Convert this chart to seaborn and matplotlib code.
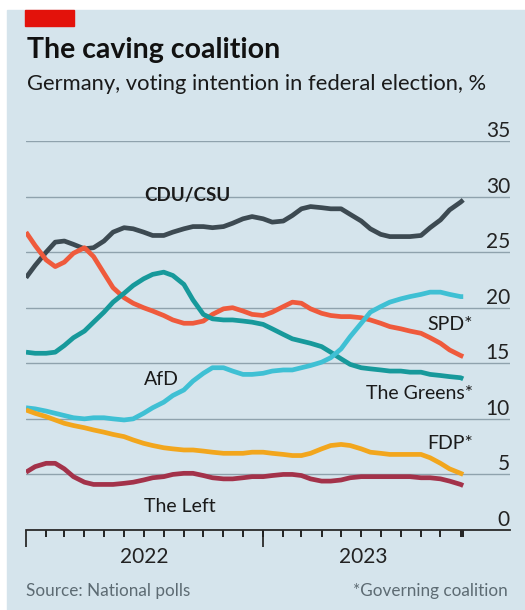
import datetime as dt
import pandas as pd
import matplotlib.pyplot as plt
import matplotlib.dates as mdates
import seaborn as sns
from matplotlib.patches import Rectangle
from matplotlib.ticker import FixedLocator, NullLocator

# poll-of-polls trend lines: 1st and 15th of each month,
# Jan 2022 to Nov 2023, plus the last reading
dates = list(pd.date_range('2022-01-01', '2023-11-01', freq='SMS')) + [pd.Timestamp('2023-11-05')]

cdu = [22.7, 23.8, 25.0, 25.9, 26.0, 25.7, 25.3, 25.4, 26.0, 26.8, 27.2, 27.1, 26.8, 26.5, 26.5, 26.8,
       27.1, 27.3, 27.3, 27.2, 27.3, 27.6, 28.0, 28.2, 28.0, 27.7, 27.8, 28.3, 28.9, 29.1, 29.0, 28.9,
       28.9, 28.4, 27.8, 27.1, 26.6, 26.4, 26.4, 26.4, 26.5, 27.2, 27.9, 28.8, 29.5, 29.7]
spd = [26.8, 25.6, 24.3, 23.7, 24.1, 24.9, 25.4, 24.6, 23.1, 21.8, 20.9, 20.4, 20.0, 19.7, 19.3, 18.9,
       18.6, 18.6, 18.8, 19.4, 19.9, 20.0, 19.7, 19.4, 19.3, 19.6, 20.1, 20.5, 20.4, 19.9, 19.5, 19.3,
       19.2, 19.2, 19.1, 18.9, 18.6, 18.3, 18.1, 17.9, 17.7, 17.3, 16.8, 16.2, 15.7, 15.6]
greens = [16.0, 15.9, 15.9, 16.0, 16.6, 17.3, 17.9, 18.7, 19.6, 20.5, 21.3, 22.0, 22.6, 23.0, 23.2, 22.9,
          22.1, 20.7, 19.4, 19.0, 18.9, 18.9, 18.8, 18.7, 18.5, 18.1, 17.6, 17.2, 17.0, 16.8, 16.5, 16.0,
          15.4, 14.9, 14.6, 14.5, 14.4, 14.3, 14.3, 14.2, 14.2, 14.0, 13.9, 13.8, 13.7, 13.6]
afd = [11.0, 10.9, 10.7, 10.5, 10.3, 10.1, 10.0, 10.1, 10.1, 10.0, 9.9, 10.0, 10.5, 11.0, 11.5, 12.1,
       12.6, 13.4, 14.1, 14.6, 14.6, 14.3, 14.0, 14.0, 14.1, 14.3, 14.4, 14.4, 14.6, 14.8, 15.1, 15.5,
       16.3, 17.4, 18.6, 19.6, 20.1, 20.5, 20.8, 21.0, 21.2, 21.4, 21.4, 21.2, 21.0, 21.0]
fdp = [10.8, 10.5, 10.2, 9.9, 9.6, 9.4, 9.2, 9.0, 8.8, 8.6, 8.4, 8.1, 7.8, 7.6, 7.4, 7.3,
       7.2, 7.2, 7.1, 7.0, 6.9, 6.9, 6.9, 7.0, 7.0, 6.9, 6.8, 6.7, 6.7, 6.9, 7.3, 7.6,
       7.7, 7.6, 7.3, 7.0, 6.9, 6.8, 6.8, 6.8, 6.8, 6.5, 6.0, 5.5, 5.1, 5.0]
left = [5.2, 5.7, 6.0, 6.0, 5.5, 4.8, 4.3, 4.1, 4.1, 4.1, 4.2, 4.3, 4.5, 4.7, 4.8, 5.0,
        5.1, 5.1, 4.9, 4.7, 4.6, 4.6, 4.7, 4.8, 4.8, 4.9, 5.0, 5.0, 4.9, 4.6, 4.4, 4.4,
        4.5, 4.7, 4.8, 4.8, 4.8, 4.8, 4.8, 4.8, 4.7, 4.7, 4.6, 4.4, 4.1, 4.0]

parties = ['CDU/CSU', 'SPD*', 'The Greens*', 'AfD', 'FDP*', 'The Left']
colours = ['#3d4a52', '#ef5a3c', '#17999b', '#3fc0d4', '#f2a61d', '#a3324a']
series = [cdu, spd, greens, afd, fdp, left]

frames = []
for name, vals in zip(parties, series):
    frames.append(pd.DataFrame({'date': dates, 'share': vals, 'party': name}))
df = pd.concat(frames, ignore_index=True)

bg = '#d5e4ec'
sns.set_style('white', {'axes.facecolor': 'none'})
plt.rcParams['font.family'] = ['Lato', 'DejaVu Sans']
plt.rcParams['xtick.bottom'] = True

fig = plt.figure(figsize=(5.25, 6.1), dpi=100, facecolor='white')
# light blue panel with a white strip at top and left, red tag in the corner
fig.patches.append(Rectangle((7 / 525, 0), 1, 1 - 10 / 610, transform=fig.transFigure,
                             color=bg, zorder=-10))
fig.patches.append(Rectangle((25 / 525, 1 - 26 / 610), 49 / 525, 16 / 610,
                             transform=fig.transFigure, color='#e3120b', zorder=-5))

ax = fig.add_axes([26 / 525, 80 / 610, 484 / 525, 389 / 610])

sns.lineplot(data=df, x='date', y='share', hue='party', palette=dict(zip(parties, colours)),
             linewidth=3.4, legend=False, ax=ax, solid_capstyle='butt')

ax.set_xlim(dt.datetime(2022, 1, 1), dt.datetime(2024, 1, 16))
ax.set_ylim(0, 35)
ax.set_xlabel('')
ax.set_ylabel('')

# y axis: gridlines with numbers sitting on them at the right
ax.set_yticks([0, 5, 10, 15, 20, 25, 30, 35])
ax.yaxis.tick_right()
ax.tick_params(axis='y', length=0, pad=0, labelsize=15, labelcolor='#222222')
plt.setp(ax.get_yticklabels(), ha='right', va='bottom')
ax.grid(axis='y', color='#8fa2ad', linewidth=1)
ax.grid(axis='x', visible=False)
for s in ['top', 'left', 'right']:
    ax.spines[s].set_visible(False)
ax.spines['bottom'].set_color('#2a2a2a')
ax.spines['bottom'].set_linewidth(1.3)

# x axis: long ticks at the start of each year ...
years = [dt.datetime(2022, 1, 1), dt.datetime(2023, 1, 1)]
ax.xaxis.set_major_locator(FixedLocator(mdates.date2num(years)))
ax.xaxis.set_minor_locator(NullLocator())
ax.tick_params(axis='x', which='major', bottom=True, top=False, direction='out',
               color='#2a2a2a', length=12, width=1.3, labelbottom=False)
# ... and short monthly marks hanging under the axis, plus one at the latest reading
months = [dt.datetime(2022 + (i // 12), i % 12 + 1, 1) for i in range(1, 23)]
months.append(dt.datetime(2023, 11, 5))
ax.vlines(months, -7 / 389, 0, transform=ax.get_xaxis_transform(), colors='#222222',
          linewidth=1.4, clip_on=False)

for label, d in [('2022', dt.datetime(2022, 7, 2)), ('2023', dt.datetime(2023, 6, 4))]:
    ax.text(d, -2.95, label, ha='center', va='baseline', fontsize=15,
            color='#222222', clip_on=False)

# series labels
lab = dict(fontsize=14, color='#1a1a1a', va='center')
ax.text(dt.datetime(2022, 7, 2), 30.1, 'CDU/CSU', ha='left', fontweight='bold',
        fontsize=13.5, color='#1a1a1a', va='center')
ax.text(dt.datetime(2023, 11, 20), 18.45, 'SPD*', ha='right', **lab)
ax.text(dt.datetime(2022, 7, 2), 13.5, 'AfD', ha='left', **lab)
ax.text(dt.datetime(2023, 11, 20), 12.3, 'The Greens*', ha='right', **lab)
ax.text(dt.datetime(2023, 11, 20), 7.8, 'FDP*', ha='right', **lab)
ax.text(dt.datetime(2022, 7, 2), 2.15, 'The Left', ha='left', **lab)

fig.text(27 / 525, 1 - 58 / 610, 'The caving coalition', fontsize=20.5, fontweight='bold',
         color='#111111', va='baseline')
fig.text(27 / 525, 1 - 90 / 610, 'Germany, voting intention in federal election, %', fontsize=15.8,
         color='#1a1a1a', va='baseline')
fig.text(26 / 525, 1 - 596 / 610, 'Source: National polls', fontsize=12.3, color='#5d6b73',
         va='baseline')
fig.text(508 / 525, 1 - 596 / 610, '*Governing coalition', fontsize=12.3, color='#5d6b73',
         va='baseline', ha='right')

fig.savefig('out.png', dpi=100)
